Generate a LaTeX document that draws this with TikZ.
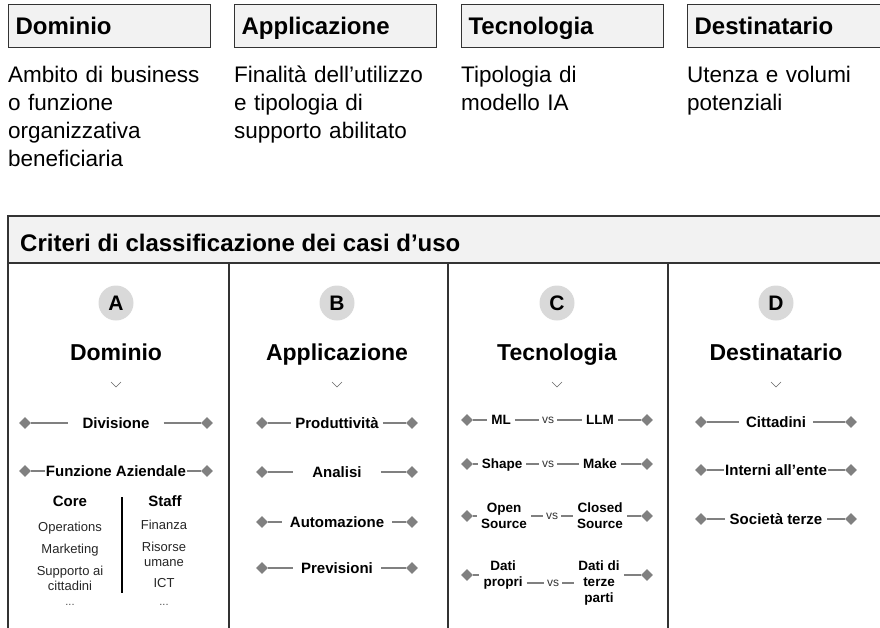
\documentclass[tikz,border=0pt]{standalone}
\usepackage{fontspec}
\setmainfont{Liberation Sans}
\usetikzlibrary{shapes.geometric}
\definecolor{hdrfill}{HTML}{F2F2F2}
\definecolor{badgefill}{HTML}{D9D9D9}
\definecolor{tickgray}{HTML}{808080}
\definecolor{framegray}{HTML}{333333}
\tikzset{
  frame/.style={draw=framegray, line width=1.2pt},
  topbox/.style={frame, fill=hdrfill, anchor=north west, minimum height=43pt,
    text width=188pt, inner xsep=7pt, inner ysep=0pt, align=left,
    text height=17pt, text depth=0pt, font=\bfseries\fontsize{24}{28}\selectfont},
  desc/.style={anchor=base west, text width=220pt, inner sep=0pt, align=left,
    font=\fontsize{22.5}{28}\selectfont},
  tabtitle/.style={anchor=base west, inner sep=0pt, font=\bfseries\fontsize{24}{28}\selectfont},
  badge/.style={circle, fill=badgefill, minimum size=35pt, inner sep=0pt,
    font=\bfseries\fontsize{21}{24}\selectfont},
  coltitle/.style={anchor=base, inner sep=0pt, font=\bfseries\fontsize{23}{27}\selectfont},
  chev/.style={draw=black!60, line width=0.6pt},
  tick/.style={diamond, fill=tickgray, minimum width=12pt, minimum height=12pt, inner sep=0pt},
  link/.style={draw=tickgray, line width=1.2pt},
  crit/.style={inner ysep=0pt, text height=10.8pt, text depth=0pt,
    font=\bfseries\fontsize{15}{18}\selectfont},
  critc/.style={inner xsep=4pt, inner ysep=0pt, text height=9.7pt, text depth=0pt,
    font=\bfseries\fontsize{13.5}{16}\selectfont},
  critm/.style={inner xsep=4pt, inner ysep=2pt, align=center,
    font=\bfseries\fontsize{13.5}{16}\selectfont},
  vs/.style={inner xsep=3pt, inner ysep=0pt, text height=6.2pt, text depth=0pt,
    text=black!80, font=\fontsize{12}{14}\selectfont},
  sub/.style={anchor=base, inner sep=0pt, font=\bfseries\fontsize{15}{18}\selectfont},
  item/.style={anchor=base, inner sep=0pt, align=center, text=black!85,
    font=\fontsize{13}{15}\selectfont},
  dots/.style={anchor=base, inner sep=0pt, text=black!70, font=\fontsize{11}{12}\selectfont}
}
\begin{document}
\begin{tikzpicture}[x=1pt, y=-1pt]
  \useasboundingbox (0,0) rectangle (880,627);
  \clip (0,0) rectangle (880,627);
  % top row
  \node[topbox] (hd) at (8,4) {Dominio};
  \node[topbox] (ha) at (234,4) {Applicazione};
  \node[topbox] (ht) at (461,4) {Tecnologia};
  \node[topbox] (hu) at (687,4) {Destinatario};
  \node[desc] (dd) at (8,82) {Ambito di business\\o funzione\\organizzativa\\beneficiaria};
  \node[desc] (da) at (234,82) {Finalità dell’utilizzo\\e tipologia di\\supporto abilitato};
  \node[desc] (dt) at (461,82) {Tipologia di\\modello IA};
  \node[desc] (du) at (687,82) {Utenza e volumi\\potenziali};
  % table
  \path[frame, fill=hdrfill] (8,216) rectangle (900,263);
  \node[tabtitle] (cr) at (20,251) {Criteri di classificazione dei casi d’uso};
  \draw[frame] (8,263) -- (8,640);
  \draw[frame] (229,263) -- (229,640);
  \draw[frame] (448,263) -- (448,640);
  \draw[frame] (668,263) -- (668,640);
  \draw[frame] (888,263) -- (888,640);
  % column heads
  \node[badge] (ba) at (116,303) {A};
  \node[badge] (bb) at (337,303) {B};
  \node[badge] (bc) at (557,303) {C};
  \node[badge] (bd) at (776,303) {D};
  \node[coltitle] (ta) at (116,360) {Dominio};
  \node[coltitle] (tb) at (337,360) {Applicazione};
  \node[coltitle] (tc) at (557,360) {Tecnologia};
  \node[coltitle] (td) at (776,360) {Destinatario};
  \draw[chev] (111,382) -- (116,387) -- (121,382);
  \draw[chev] (332,382) -- (337,387) -- (342,382);
  \draw[chev] (552,382) -- (557,387) -- (562,382);
  \draw[chev] (771,382) -- (776,387) -- (781,382);
  % A - Dominio
  \node[tick] (a1l) at (25,423) {};
  \node[tick] (a1r) at (207,423) {};
  \node[crit, inner xsep=14pt] (a1) at (116,423) {Divisione};
  \node[tick] (a2l) at (25,471) {};
  \node[tick] (a2r) at (207,471) {};
  \node[crit, inner xsep=0.5pt] (a2) at (116,471) {Funzione Aziendale};
  \path[link] (a1l) edge (a1) (a1) edge (a1r);
  \path[link] (a2l) edge (a2) (a2) edge (a2r);
  \node[sub] (core) at (70,506) {Core};
  \node[sub] (staff) at (165,506) {Staff};
  \draw[draw=black, line width=1.2pt] (122,497) -- (122,593);
  \node[item] (o1) at (70,531) {Operations};
  \node[item] (o2) at (70,553) {Marketing};
  \node[item] (o3) at (70,590) {Supporto ai\\cittadini};
  \node[dots] (o4) at (70,605) {...};
  \node[item] (s1) at (164,529) {Finanza};
  \node[item] (s2) at (164,566) {Risorse\\umane};
  \node[item] (s3) at (164,587) {ICT};
  \node[dots] (s4) at (164,605) {...};
  % B - Applicazione
  \node[tick] (b1l) at (262,423) {};
  \node[tick] (b1r) at (412,423) {};
  \node[crit, inner xsep=4pt] (b1) at (337,423) {Produttività};
  \node[tick] (b2l) at (262,472) {};
  \node[tick] (b2r) at (412,472) {};
  \node[crit, inner xsep=19pt] (b2) at (337,472) {Analisi};
  \node[tick] (b3l) at (262,522) {};
  \node[tick] (b3r) at (412,522) {};
  \node[crit, inner xsep=8pt] (b3) at (337,522) {Automazione};
  \node[tick] (b4l) at (262,568) {};
  \node[tick] (b4r) at (412,568) {};
  \node[crit, inner xsep=8pt] (b4) at (337,568) {Previsioni};
  \path[link] (b1l) edge (b1) (b1) edge (b1r);
  \path[link] (b2l) edge (b2) (b2) edge (b2r);
  \path[link] (b3l) edge (b3) (b3) edge (b3r);
  \path[link] (b4l) edge (b4) (b4) edge (b4r);
  % C - Tecnologia
  \node[tick] (c1l) at (467,420) {};
  \node[tick] (c1r) at (647,420) {};
  \node[critc] (c1a) at (501,420) {ML};
  \node[vs] (c1) at (548,420) {vs};
  \node[critc] (c1b) at (600,420) {LLM};
  \path[link] (c1l) edge (c1a) (c1a) edge (c1) (c1) edge (c1b) (c1b) edge (c1r);
  \node[tick] (c2l) at (467,464) {};
  \node[tick] (c2r) at (647,464) {};
  \node[critc] (c2a) at (502,464) {Shape};
  \node[vs] (c2) at (548,464) {vs};
  \node[critc] (c2b) at (600,464) {Make};
  \path[link] (c2l) edge (c2a) (c2a) edge (c2) (c2) edge (c2b) (c2b) edge (c2r);
  \node[tick] (c3l) at (467,516) {};
  \node[tick] (c3r) at (647,516) {};
  \node[critm] (c3a) at (504,516) {Open\\Source};
  \node[vs] (c3) at (552,516) {vs};
  \node[critm] (c3b) at (600,516) {Closed\\Source};
  \path[link] (c3l) edge (c3a) (c3a) edge (c3) (c3) edge (c3b) (c3b) edge (c3r);
  \node[tick] (c4l) at (467,575) {};
  \node[tick] (c4r) at (647,575) {};
  \node[critm, anchor=north] (c4a) at (503,559) {Dati\\propri};
  \node[vs] (c4) at (553,583) {vs};
  \node[critm, anchor=north] (c4b) at (599,559) {Dati di\\terze\\parti};
  \path[link] (c4l) edge (c4l -| c4a.west);
  \path[link] (c4a.east |- c4) edge (c4) (c4) edge (c4b.west |- c4);
  \path[link] (c4r -| c4b.east) edge (c4r);
  % D - Destinatario
  \node[tick] (d1l) at (701,422) {};
  \node[tick] (d1r) at (851,422) {};
  \node[crit, inner xsep=7pt] (d1) at (776,422) {Cittadini};
  \node[tick] (d2l) at (701,470) {};
  \node[tick] (d2r) at (851,470) {};
  \node[crit, inner xsep=0.5pt] (d2) at (776,470) {Interni all’ente};
  \node[tick] (d3l) at (701,519) {};
  \node[tick] (d3r) at (851,519) {};
  \node[crit, inner xsep=5pt] (d3) at (776,519) {Società terze};
  \path[link] (d1l) edge (d1) (d1) edge (d1r);
  \path[link] (d2l) edge (d2) (d2) edge (d2r);
  \path[link] (d3l) edge (d3) (d3) edge (d3r);
\end{tikzpicture}
\end{document}
